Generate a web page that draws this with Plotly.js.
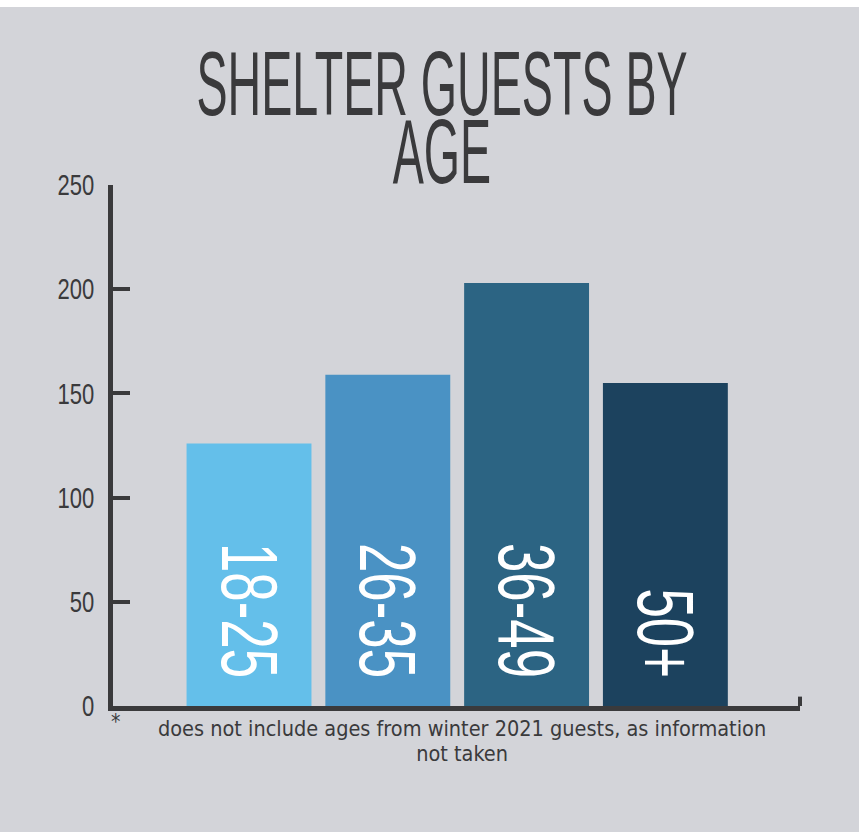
<!DOCTYPE html>
<html>
<head>
<meta charset="utf-8">
<script src="https://cdn.plot.ly/plotly-3.0.1.min.js"></script>
<style>
html,body{margin:0;padding:0;background:#ffffff;}
#chart{width:859px;height:825px;margin-top:7px;}
</style>
</head>
<body>
<div id="chart"></div>
<script>
const categories = ["18-25", "26-35", "36-49", "50+"];
const guests = [126, 159, 203, 155];
const barColors = ["#64BFEA", "#4A92C4", "#2C6483", "#1C425E"];
const yTicks = [0, 50, 100, 150, 200, 250];
const titleText = "SHELTER GUESTS BY<br>AGE";
const footnote = "does not include ages from winter 2021 guests, as information<br>not taken";

const ink = "#3a3a3c";
const trace = {
  type: "bar",
  x: categories,
  y: guests,
  marker: {color: barColors, line: {width: 0}},
  width: 0.9,
  text: categories,
  textposition: "inside",
  insidetextanchor: "start",
  textangle: 90,
  constraintext: "none",
  textfont: {family: "Liberation Sans", size: 80, color: "#ffffff"},
  hoverinfo: "none"
};

const layout = {
  width: 859, height: 825,
  paper_bgcolor: "#D3D4D9",
  plot_bgcolor: "#D3D4D9",
  margin: {l: 113, r: 59, t: 178, b: 126},
  showlegend: false,
  title: {
    text: titleText,
    font: {family: "Liberation Sans", size: 90, color: ink},
    x: 442 / 859, xanchor: "center", xref: "container",
    y: 0.9, yanchor: "top", yref: "container"
  },
  xaxis: {
    type: "category",
    range: [-0.98, 3.97],
    showticklabels: false,
    ticks: "",
    showgrid: false, zeroline: false,
    showline: true, linecolor: ink, linewidth: 5
  },
  yaxis: {
    range: [0, 250],
    tickvals: yTicks,
    ticks: "inside", ticklen: 17, tickwidth: 4, tickcolor: ink,
    tickfont: {family: "Liberation Sans", size: 29, color: ink},
    ticklabelstandoff: 8,
    showgrid: false, zeroline: false,
    showline: true, linecolor: ink, linewidth: 5
  },
  shapes: [{
    type: "line", xref: "paper", yref: "y",
    x0: 1, x1: 1, y0: 0, y1: 4.5,
    line: {color: ink, width: 4}
  }],
  annotations: [
    {text: "*", xref: "paper", yref: "paper", x: 0.004, y: -0.031,
     xanchor: "center", yanchor: "middle", showarrow: false,
     font: {family: "DejaVu Sans Condensed", size: 21, color: ink}},
    {text: footnote, xref: "paper", yref: "paper", x: 0.508, y: -0.015,
     xanchor: "center", yanchor: "top", showarrow: false, align: "center",
     font: {family: "DejaVu Sans Condensed", size: 21.5, color: ink}}
  ]
};

// condense a text element horizontally (in its own coordinates) about an origin
function squeeze(el, sx, originMode, shiftX) {
  const b = el.getBBox();
  const ox = originMode === "end" ? b.x + b.width : (originMode === "start" ? b.x : b.x + b.width / 2);
  const cy = b.y + b.height / 2;
  const t = el.getAttribute("transform") || "";
  el.setAttribute("transform",
    t + " translate(" + (shiftX || 0) + ",0) translate(" + ox + "," + cy + ") scale(" + sx + ",1) translate(" + (-ox) + "," + (-cy) + ")");
}

Plotly.newPlot("chart", [trace], layout, {displayModeBar: false, staticPlot: true}).then(function (gd) {
  // title: condensed and tighter line spacing
  const tt = gd.querySelector(".g-gtitle text");
  if (tt) {
    tt.querySelectorAll("tspan.line").forEach(function (ts, i) {
      if (i > 0) ts.setAttribute("dy", "0.756em");
    });
    const y0 = parseFloat(tt.getAttribute("y"));
    const t0 = tt.getAttribute("transform") || "";
    tt.setAttribute("transform", "translate(0," + (108 - y0) + ") " + t0);
    squeeze(tt, 0.518, "middle");
  }
  // footnote: slightly tighter line spacing
  gd.querySelectorAll(".annotation-text tspan.line").forEach(function (ts, i) {
    if (i > 0) ts.setAttribute("dy", "1.16em");
  });
  // y tick labels
  gd.querySelectorAll(".yaxislayer-above .ytick text").forEach(function (el) {
    squeeze(el, 0.76, "end");
  });
  // bar labels
  gd.querySelectorAll(".bartext text, text.bartext").forEach(function (el) {
    squeeze(el, 0.66, "end", -25);
  });
});
</script>
</body>
</html>
